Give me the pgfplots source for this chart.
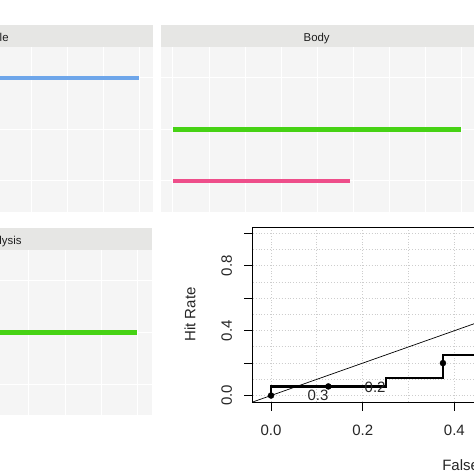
\documentclass[border=0pt]{standalone}
\usepackage{pgfplots}
\pgfplotsset{compat=1.18}
\usepackage{fontspec}
\setmainfont{Liberation Sans}
\usetikzlibrary{calc}
\definecolor{ggpanel}{RGB}{245,245,245}
\definecolor{ggstrip}{RGB}{230,230,228}
\definecolor{ggtext}{RGB}{30,30,30}
\definecolor{ggblue}{RGB}{110,166,234}
\definecolor{gggreen}{RGB}{70,210,20}
\definecolor{ggpink}{RGB}{238,78,138}
\definecolor{rgrid}{RGB}{205,205,205}
\pgfplotsset{
  ggpanel/.style={
    scale only axis, anchor=north west,
    axis background/.style={fill=ggpanel},
    axis line style={draw=none},
    ymin=0.4, ymax=3.6, ytick={1,2,3},
    xticklabels={}, yticklabels={},
    major tick length=0pt,
    grid=major, grid style={white, line width=1pt},
  },
}
\begin{document}
\begin{tikzpicture}
\useasboundingbox (0,0) rectangle (474pt,474pt);
\clip (0,0) rectangle (474pt,474pt);
\fill[white] (0,0) rectangle (474pt,474pt);
% facet strips
\fill[ggstrip] (-40pt,449pt) rectangle (153.3pt,427pt);
\fill[ggstrip] (160.7pt,449pt) rectangle (473.5pt,427pt);
\fill[ggstrip] (-40pt,245.7pt) rectangle (151.7pt,224pt);
\node[anchor=base east, inner sep=0pt, text=ggtext, font=\fontsize{11.4}{13}\selectfont] at (8.8pt,432.5pt) {Title};
\node[anchor=base, inner sep=0pt, text=ggtext, font=\fontsize{11.4}{13}\selectfont] at (316.7pt,432.5pt) {Body};
\node[anchor=base east, inner sep=0pt, text=ggtext, font=\fontsize{11.4}{13}\selectfont] at (21.8pt,229.3pt) {Analysis};

% top-left panel
\begin{axis}[ggpanel, at={(-40pt,427pt)}, width=193.3pt, height=164.7pt,
  xmin=-2, xmax=3.37, xtick={0,1,2,3}]
\addplot[ggblue, line width=4.5pt] coordinates {(-3,3) (2.97,3)};
\end{axis}

% top-right panel (Body)
\begin{axis}[ggpanel, at={(160.7pt,427pt)}, width=312.8pt, height=164.7pt,
  xmin=-0.34, xmax=8.32, xtick={0,1,2,3,4,5,6,7,8}]
\addplot[gggreen, line width=4.5pt] coordinates {(0,2) (7.98,2)};
\addplot[ggpink, line width=4.5pt] coordinates {(0,1) (4.9,1)};
\end{axis}

% bottom-left panel
\begin{axis}[ggpanel, at={(-40pt,224pt)}, width=191.7pt, height=165pt,
  xmin=-1.9, xmax=3.38, xtick={0,1,2,3}]
\addplot[gggreen, line width=4.5pt] coordinates {(-3,2) (2.975,2)};
\end{axis}

% ROC plot
\begin{axis}[scale only axis, anchor=north west, at={(252.7pt,247pt)},
  width=495.1pt, height=175pt,
  xmin=-0.04, xmax=1.04, ymin=-0.04, ymax=1.04,
  axis line style={black, line width=0.9pt},
  xtick={0,0.2,0.4,0.6,0.8,1}, ytick={0,0.2,0.4,0.6,0.8,1},
  xticklabels={0.0,0.2,0.4,0.6,0.8,1.0},
  yticklabels={0.0,,0.4,,0.8,},
  minor xtick={0.1,0.3,0.5,0.7,0.9}, minor ytick={0.1,0.3,0.5,0.7,0.9},
  grid=both, grid style={rgrid, dotted, line width=0.9pt},
  minor grid style={rgrid, dotted, line width=0.9pt},
  major grid style={rgrid, dotted, line width=0.9pt},
  tick align=outside, tick pos=left,
  major tick length=8.5pt, minor tick length=0pt,
  tick style={black, line width=0.9pt},
  tick label style={font=\fontsize{15}{18}\selectfont, text=black!85},
  xticklabel style={anchor=center, yshift=-20pt},
  yticklabel style={anchor=center, xshift=-17.5pt, rotate=90},
  label style={font=\fontsize{15}{18}\selectfont, text=black!85},
  xlabel={False Alarm Rate},
  ylabel={Hit Rate},
  xlabel style={at={(axis description cs:0.5,0)}, anchor=base, yshift=-69pt},
  ylabel style={at={($(axis description cs:0,0.5)+(-62.7pt,0pt)$)}, anchor=center},
]
\addplot[black, line width=0.7pt] coordinates {(-0.04,-0.04) (1.04,1.04)};
\addplot[black, line width=2.2pt, line join=miter] coordinates {(0,0) (0,0.056) (0.25,0.056) (0.25,0.11) (0.375,0.11) (0.375,0.25) (0.5,0.25)};
\addplot[only marks, mark=*, mark size=3pt, black] coordinates {(0,0) (0.125,0.056) (0.375,0.2)};
\node[font=\fontsize{15}{18}\selectfont, text=black!85] at (axis cs:0.1025,0) {0.3};
\node[font=\fontsize{15}{18}\selectfont, text=black!85] at (axis cs:0.227,0.048) {0.2};
\end{axis}
\end{tikzpicture}
\end{document}
